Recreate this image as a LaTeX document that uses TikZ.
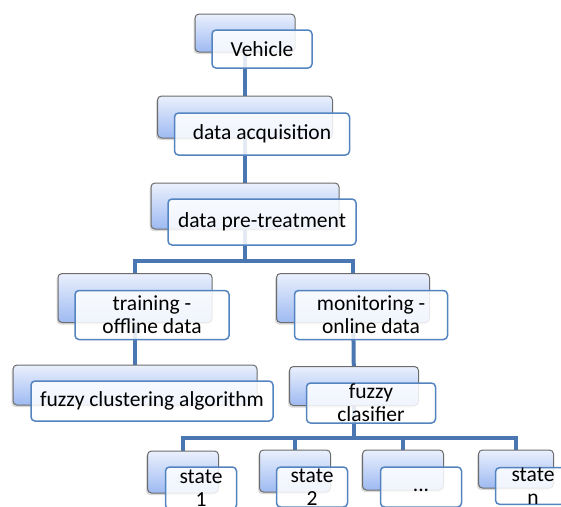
\documentclass[tikz,border=0pt]{standalone}
\usepackage{fontspec}
\setmainfont{Carlito}
\usetikzlibrary{shadows,backgrounds}
\definecolor{linkblue}{RGB}{74,118,178}
\definecolor{frameblue}{RGB}{84,132,192}
\definecolor{backtop}{RGB}{234,240,253}
\definecolor{backbot}{RGB}{158,186,242}

\begin{document}
\begin{tikzpicture}[x=1pt,y=-1pt,
  back/.style={draw=gray!85!black, line width=1pt, rounded corners=4pt,
    top color=backtop, bottom color=backbot, inner sep=0pt,
    drop shadow={shadow xshift=-1.5pt,shadow yshift=-2pt,opacity=0.3}},
  front/.style={draw=frameblue, line width=1.5pt, rounded corners=4pt,
    fill=white, fill opacity=0.85, text opacity=1, align=center,
    inner sep=0pt, font=\fontsize{21.5}{23}\selectfont},
  link/.style={draw=linkblue, line width=4pt}]
\useasboundingbox (0,0) rectangle (561,506);
\clip (0,0) rectangle (561,506);

% levels of the tree
\node[back, minimum width=100, minimum height=38] (vehb) at (245,33) {};
\node[front, minimum width=100, minimum height=38] (veh) at (262,49) {Vehicle};

\node[back, minimum width=175, minimum height=42] (acqb) at (245,117) {};
\node[front, minimum width=175, minimum height=42] (acq) at (262,134) {data acquisition};

\node[back, minimum width=188, minimum height=46] (preb) at (245,206) {};
\node[front, minimum width=188, minimum height=46] (pre) at (262,222) {data pre-treatment};

\node[back, minimum width=154, minimum height=49] (trainb) at (135,298) {};
\node[front, minimum width=154, minimum height=49] (train) at (152,315) {training -\\offline data};

\node[back, minimum width=153, minimum height=49] (monb) at (353,298) {};
\node[front, minimum width=153, minimum height=49] (mon) at (371,315) {monitoring -\\online data};

\node[back, minimum width=244, minimum height=40] (clusb) at (135,385) {};
\node[front, minimum width=242, minimum height=40] (clus) at (152,401) {fuzzy clustering algorithm};

\node[back, minimum width=129, minimum height=39] (clasb) at (354,386) {};
\node[front, minimum width=129, minimum height=40] (clas) at (371,403) {fuzzy\\clasifier};

% states
\node[back, minimum width=71, minimum height=42] (s1b) at (183,472) {};
\node[front, minimum width=71, minimum height=42] (s1) at (201,488) {state\\1};

\node[back, minimum width=71, minimum height=42] (s2b) at (295,471) {};
\node[front, minimum width=71, minimum height=40] (s2) at (312,487) {state\\2};

\node[back, minimum width=81, minimum height=40] (sdb) at (403,470) {};
\node[front, minimum width=81, minimum height=40] (sd) at (421,487) {\strut...};

\node[back, minimum width=75, minimum height=38] (snb) at (516,469) {};
\node[front, minimum width=75, minimum height=36] (sn) at (533,486) {state\\n};

% connectors
\begin{scope}[on background layer]
\draw[link] (vehb) -- (acqb);
\draw[link] (acqb) -- (preb);
\draw[link] (preb.south) -- ++(0,31) -| (trainb.north);
\draw[link] (preb.south) -- ++(0,31) -| (monb.north);
\draw[link] (trainb) -- (clusb);
\draw[link] (monb) -- (clasb);
\foreach \s in {s1b,s2b,sdb,snb}
  \draw[link] (clasb.south) -- ++(0,32) -| (\s.north);
\end{scope}
\end{tikzpicture}
\end{document}
